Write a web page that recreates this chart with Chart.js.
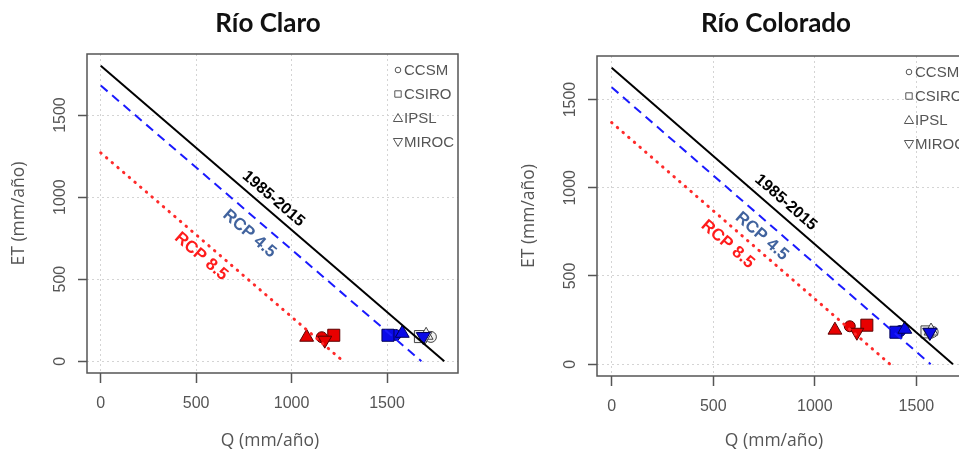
<!DOCTYPE html>
<html>
<head>
<meta charset="utf-8">
<script src="https://cdn.jsdelivr.net/npm/chart.js@4.4.1/dist/chart.umd.min.js"></script>
<style>
html, body { margin: 0; padding: 0; background: #fff; overflow: hidden; }
#wrap { position: relative; width: 959px; height: 453px; overflow: hidden; }
#claro { position: absolute; left: 0; top: 0; }
#colorado { position: absolute; left: 510px; top: 0; }
</style>
</head>
<body>
<div id="wrap">
  <canvas id="claro" width="480" height="453"></canvas>
  <canvas id="colorado" width="500" height="453"></canvas>
</div>
<script>
const models = ['CCSM', 'CSIRO', 'IPSL', 'MIROC'];
const lineNames = ['1985-2015', 'RCP 4.5', 'RCP 8.5'];
const axisTicks = [0, 500, 1000, 1500];

// Río Claro: lines are Q + ET = total
const claroLineTotals = [1800, 1680, 1270];
const claroHistQ = [1730, 1675, 1705, 1698];
const claroHistET = [148, 150, 158, 150];
const claroRcp45Q = [1545, 1505, 1580, 1690];
const claroRcp45ET = [160, 158, 170, 150];
const claroRcp85Q = [1158, 1221, 1079, 1174];
const claroRcp85ET = [146, 158, 146, 128];

// Río Colorado
const coloradoLineTotals = [1680, 1570, 1370];
const coloradoHistQ = [1580, 1552, 1572, 1565];
const coloradoHistET = [183, 183, 188, 180];
const coloradoRcp45Q = [1420, 1399, 1443, 1567];
const coloradoRcp45ET = [188, 181, 198, 181];
const coloradoRcp85Q = [1172, 1256, 1099, 1207];
const coloradoRcp85ET = [215, 221, 193, 181];

const lineColors = ['#000000', '#1a1aff', '#ff2a2a'];
const labelColors = ['#000000', '#41639e', '#ff1c1c'];

const pts = (qs, ets) => qs.map((q, i) => ({x: q, y: ets[i]}));

function lineSet(total, i) {
    return {
        label: lineNames[i],
        data: [{x: 0, y: total}, {x: total, y: 0}],
        showLine: true,
        pointRadius: 0,
        borderColor: lineColors[i],
        borderWidth: i == 2 ? 3 : 2,
        borderDash: [[], [9, 6], [0.5, 7]][i],
        borderCapStyle: i == 2 ? 'round' : 'butt',
        order: 0,
    };
}

function pointSet(name, data, fill, edge, order) {
    return {
        label: name,
        data: data,
        showLine: false,
        pointStyle: ['circle', 'rect', 'triangle', 'triangle'],
        pointRotation: [0, 0, 0, 180],
        pointRadius: [5.5, 8.5, 8, 8],
        pointBackgroundColor: fill,
        pointBorderColor: edge,
        pointBorderWidth: 1,
        order: order,
    };
}

const decor = {
    id: 'decor',
    afterDraw(chart, args, o) {
        const {ctx, chartArea: a, scales: {x, y}} = chart;
        ctx.save();
        ctx.strokeStyle = '#555';
        ctx.lineWidth = 1.5;
        ctx.strokeRect(a.left, a.top, a.right - a.left, a.bottom - a.top);

        ctx.textAlign = 'center';
        ctx.textBaseline = 'middle';
        ctx.fillStyle = '#111';
        ctx.font = 'bold 26px Lato';
        ctx.fillText(o.title, o.titleX, 24);
        ctx.fillStyle = '#555';
        ctx.font = '17.5px "Open Sans"';
        ctx.fillText('Q (mm/año)', o.xLabelX, 441);

        // labels along the lines
        const l = chart.data.datasets[0].data;
        const ang = Math.atan2(y.getPixelForValue(l[1].y) - y.getPixelForValue(l[0].y),
                               x.getPixelForValue(l[1].x) - x.getPixelForValue(l[0].x));
        o.labelQ.forEach((q, i) => {
            ctx.save();
            ctx.translate(x.getPixelForValue(q), y.getPixelForValue(o.labelET[i]));
            ctx.rotate(ang);
            ctx.fillStyle = labelColors[i];
            ctx.font = i == 0 ? 'bold 16px "Liberation Sans"' : 'bold 17px "Liberation Sans"';
            ctx.fillText(lineNames[i], 0, 0);
            ctx.restore();
        });

        // model legend, top right
        const sx = a.right - o.legendDx;
        ctx.strokeStyle = '#555';
        ctx.lineWidth = 1;
        ctx.fillStyle = '#555';
        ctx.font = '15px "Liberation Sans"';
        ctx.textAlign = 'left';
        models.forEach((m, i) => {
            const sy = a.top + 16 + i * 24;
            ctx.beginPath();
            if (i == 0) ctx.arc(sx, sy, 2.8, 0, Math.PI * 2);
            if (i == 1) ctx.rect(sx - 3.2, sy - 3.2, 6.4, 6.4);
            if (i == 2) { ctx.moveTo(sx, sy - 4.5); ctx.lineTo(sx - 4.6, sy + 3.5); ctx.lineTo(sx + 4.6, sy + 3.5); ctx.closePath(); }
            if (i == 3) { ctx.moveTo(sx, sy + 4.5); ctx.lineTo(sx - 4.6, sy - 3.5); ctx.lineTo(sx + 4.6, sy - 3.5); ctx.closePath(); }
            ctx.stroke();
            ctx.fillText(m, sx + 6, sy + 1);
        });
        ctx.restore();
    }
};

function makeChart(id, c) {
    const grid = {color: '#d4d4d4', lineWidth: 1, tickColor: '#555', tickWidth: 1.5};
    const tickFont = {family: 'Liberation Sans', size: 16};
    return new Chart(document.getElementById(id), {
        type: 'scatter',
        plugins: [decor],
        data: {
            datasets: [
                lineSet(c.totals[0], 0),
                lineSet(c.totals[1], 1),
                lineSet(c.totals[2], 2),
                pointSet('RCP 8.5', c.rcp85, '#e80000', '#5a0000', 1),
                pointSet('RCP 4.5', c.rcp45, '#0a0ae8', '#00005a', 2),
                pointSet('1985-2015', c.hist, '#f2f2f2', '#444', 3),
            ]
        },
        options: {
            responsive: false,
            animation: false,
            layout: {padding: {top: c.top, right: c.padRight, left: 0, bottom: 0}},
            scales: {
                x: {
                    type: 'linear',
                    min: c.xMin,
                    max: c.xMax,
                    afterBuildTicks: s => { s.ticks = axisTicks.map(v => ({value: v})); },
                    afterFit: s => { s.height = c.xAxisHeight; },
                    grid: {...grid, tickLength: 10},
                    border: {display: false, dash: [2, 3]},
                    ticks: {color: '#555', font: tickFont, padding: 11, maxRotation: 0, callback: v => String(v)},
                },
                y: {
                    type: 'linear',
                    min: c.yMin,
                    max: c.yMax,
                    afterBuildTicks: s => { s.ticks = axisTicks.map(v => ({value: v})); },
                    afterFit: s => { s.width = 87; },
                    grid: {...grid, tickLength: 9},
                    border: {display: false, dash: [2, 3]},
                    ticks: {color: '#555', font: tickFont, padding: 0, minRotation: 90, maxRotation: 90, crossAlign: 'center', callback: v => String(v)},
                    title: {display: true, text: 'ET (mm/año)', color: '#555', font: {family: 'Open Sans', size: 17.5}, padding: {top: 9, bottom: 0}},
                },
            },
            plugins: {
                legend: {display: false},
                tooltip: {enabled: false},
                decor: c.decor,
            },
        },
    });
}

makeChart('claro', {
    totals: claroLineTotals,
    hist: pts(claroHistQ, claroHistET),
    rcp45: pts(claroRcp45Q, claroRcp45ET),
    rcp85: pts(claroRcp85Q, claroRcp85ET),
    xMin: -72, xMax: 1872, yMin: -72, yMax: 1872,
    top: 54, padRight: 22, xAxisHeight: 80,
    decor: {title: 'Río Claro', titleX: 268, xLabelX: 270, legendDx: 60,
            labelQ: [905, 779, 526], labelET: [990, 777, 638]},
});

makeChart('colorado', {
    totals: coloradoLineTotals,
    hist: pts(coloradoHistQ, coloradoHistET),
    rcp45: pts(coloradoRcp45Q, coloradoRcp45ET),
    rcp85: pts(coloradoRcp85Q, coloradoRcp85ET),
    xMin: -72, xMax: 1872, yMin: -67, yMax: 1747,
    top: 56, padRight: 18, xAxisHeight: 77,
    decor: {title: 'Río Colorado', titleX: 266, xLabelX: 264, legendDx: 83,
            labelQ: [857, 739, 571], labelET: [917, 725, 680]},
});
</script>
</body>
</html>
